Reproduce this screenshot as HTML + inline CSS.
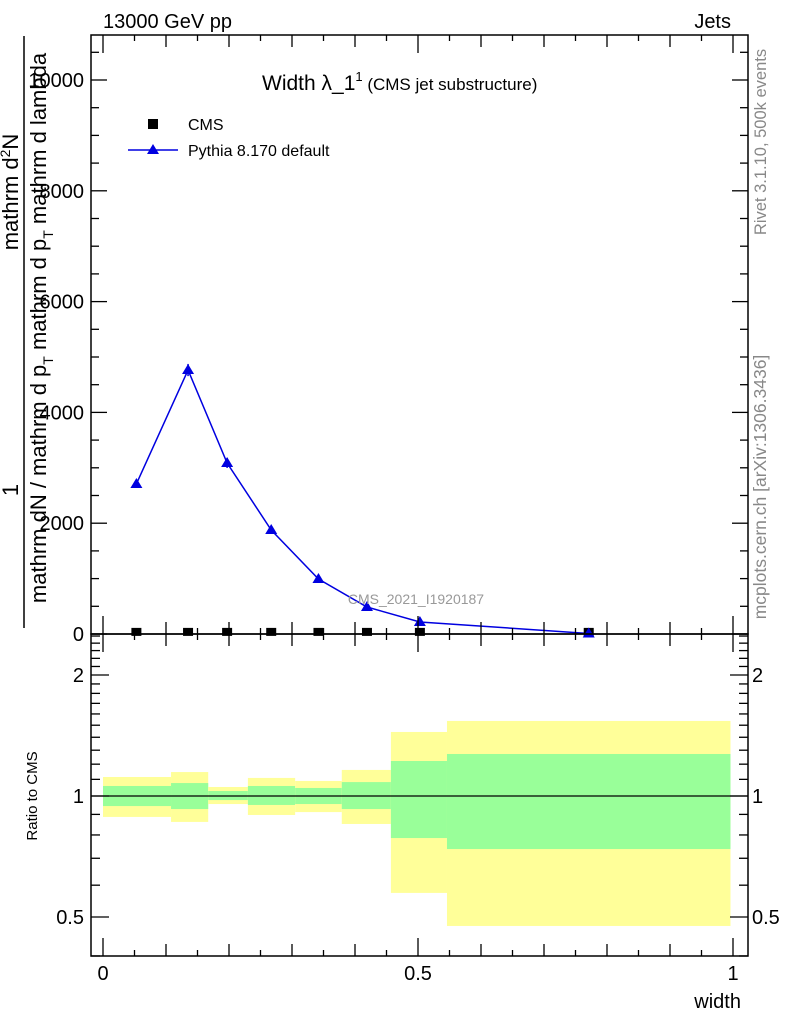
<!DOCTYPE html>
<html><head><meta charset="utf-8"><style>
html,body{margin:0;padding:0;background:#fff}
svg{display:block;font-family:"Liberation Sans",sans-serif}
</style></head><body>
<svg id="chart" width="786" height="1024" viewBox="0 0 786 1024" xmlns="http://www.w3.org/2000/svg">
<g id="ratio-bands"></g>
<g id="main-marks"></g>
<g id="axes"></g>
<text x="103" y="28" font-size="20">13000 GeV pp</text>
<text x="731" y="28" font-size="20" text-anchor="end">Jets</text>
<text x="262" y="90" font-size="21">Width λ_1<tspan font-size="13" dy="-9">1</tspan><tspan font-size="17" dy="9"> (CMS jet substructure)</tspan></text>
<g>
<rect x="148" y="119" width="10" height="10" fill="#000"/>
<text x="188" y="130" font-size="16">CMS</text>
<line x1="128" y1="150" x2="178" y2="150" stroke="#0000e0" stroke-width="1.5"/>
<polygon points="153,144 159,154 147,154" fill="#0000e0"/>
<text x="188" y="156" font-size="16">Pythia 8.170 default</text>
</g>
<text x="416" y="604" font-size="14" fill="#999" text-anchor="middle">CMS_2021_I1920187</text>
<text transform="translate(766,142) rotate(-90)" font-size="16.5" fill="#888" text-anchor="middle">Rivet 3.1.10,  500k events</text>
<text transform="translate(766,487) rotate(-90)" font-size="17.5" fill="#888" text-anchor="middle">mcplots.cern.ch [arXiv:1306.3436]</text>
<g>
<line x1="24" y1="36" x2="24" y2="628" stroke="#000" stroke-width="1.5"/>
<text transform="translate(24,192) rotate(-90)" font-size="22" text-anchor="middle" dy="-6">mathrm d<tspan font-size="14" dy="-8">2</tspan><tspan dy="8">N</tspan></text>
<text transform="translate(24,490) rotate(-90)" font-size="22" text-anchor="middle" dy="-6">1</text>
<text transform="translate(24,328) rotate(-90)" font-size="22" text-anchor="middle" dy="22">mathrm dN / mathrm d p<tspan font-size="14" dy="7">T</tspan><tspan dy="-7"> mathrm d p</tspan><tspan font-size="14" dy="7">T</tspan><tspan dy="-7"> mathrm d lambda</tspan></text>
</g>
<text transform="translate(37,796) rotate(-90)" font-size="15" text-anchor="middle">Ratio to CMS</text>
<text x="741" y="1008" font-size="20" text-anchor="end">width</text>
</svg>
<script>
const binEdges=[0,0.108,0.167,0.230,0.305,0.379,0.457,0.546,0.996];
const xCenters=[0.053,0.135,0.197,0.267,0.342,0.419,0.503,0.771];
const pythiaVals=[2708,4765,3087,1877,993,487,217,10];
const pythiaErr=[40,110,90,40,30,20,10,5];
const cmsVals=[20,20,20,20,20,20,20,20];
const yellowHi=[1.115,1.147,1.053,1.109,1.090,1.161,1.443,1.537];
const yellowLo=[0.887,0.862,0.955,0.897,0.912,0.852,0.574,0.475];
const greenHi=[1.059,1.077,1.029,1.059,1.047,1.083,1.222,1.272];
const greenLo=[0.944,0.928,0.977,0.950,0.955,0.928,0.786,0.738];
const yTicks=[0,2000,4000,6000,8000,10000];
const yTickLabels=["0","2000","4000","6000","8000","10000"];
const rTicks=[0.5,1,2];
const rTickLabels=["0.5","1","2"];
const xTicks=[0,0.5,1];
const xTickLabels=["0","0.5","1"];

const NS="http://www.w3.org/2000/svg";
const L=91,R=748,T=35,MB=634,RB=956;
const X=v=>103+v*630;
const Y=v=>634-v*0.0554;
const RY=v=>796-Math.log10(v)*402;
function mk(tag,attrs,parent){const e=document.createElementNS(NS,tag);for(const k in attrs)e.setAttribute(k,attrs[k]);parent.appendChild(e);return e;}

const bands=document.getElementById('ratio-bands');
for(let i=0;i<yellowHi.length;i++){
  const x0=X(binEdges[i]),x1=X(binEdges[i+1]);
  const y=mk('rect',{x:x0,y:RY(yellowHi[i]),width:x1-x0,height:RY(yellowLo[i])-RY(yellowHi[i]),fill:'#ffff99'},bands);
  
  
  const g=mk('rect',{x:x0,y:RY(greenHi[i]),width:x1-x0,height:RY(greenLo[i])-RY(greenHi[i]),fill:'#99ff99'},bands);
  
  
}
const one=mk('line',{x1:L,x2:R,y1:RY(1),y2:RY(1),stroke:'#000','stroke-width':1.2},bands);



const mm=document.getElementById('main-marks');
const pts=xCenters.map((x,i)=>X(x)+','+Y(pythiaVals[i])).join(' ');
const pl=mk('polyline',{points:pts,fill:'none',stroke:'#0000e0','stroke-width':1.5},mm);


xCenters.forEach((x,i)=>{
  const cx=X(x),cy=Y(cmsVals[i]);
  const s=mk('rect',{x:cx-5,y:cy-5,width:10,height:8,fill:'#000'},mm);
  
  
  const py=Y(pythiaVals[i]);
  const eb=mk('line',{x1:cx,x2:cx,y1:Y(pythiaVals[i]+pythiaErr[i]),y2:Y(pythiaVals[i]-pythiaErr[i]),stroke:'#0000e0','stroke-width':1.5},mm);
  
  
  const t=mk('polygon',{points:`${cx},${py-6} ${cx+6},${py+4} ${cx-6},${py+4}`,fill:'#0000e0'},mm);
  
  
});

const ax=document.getElementById('axes');
function ln(x1,y1,x2,y2,w){mk('line',{x1,y1,x2,y2,stroke:'#000','stroke-width':w||1.3},ax);}
const f1=mk('rect',{x:L,y:T,width:R-L,height:MB-T,fill:'none',stroke:'#000','stroke-width':1.5},ax);


const f2=mk('rect',{x:L,y:MB,width:R-L,height:RB-MB,fill:'none',stroke:'#000','stroke-width':1.5},ax);


for(let v=0;v<=10800;v+=500){const y=Y(v);const big=v%2000===0;const len=big?16:8;ln(L,y,L+len,y);ln(R,y,R-len,y);}
yTicks.forEach((v,i)=>{const t=mk('text',{x:L-7,y:Y(v)+7,'font-size':20,'text-anchor':'end'},ax);t.textContent=yTickLabels[i];});
for(let k=0;k<=20;k++){const v=k*0.05;const x=X(v);const len=(k%10===0)?18:(k%2===0?12:6);
  ln(x,MB,x,MB-len);ln(x,T,x,T+len);ln(x,RB,x,RB-len);ln(x,MB,x,MB+len);}
xTickLabels.forEach((s,i)=>{const t=mk('text',{x:X(xTicks[i]),y:980,'font-size':20,'text-anchor':'middle'},ax);t.textContent=s;});
const minor=[0.4,0.6,0.7,0.8,0.9,1.1,1.2,1.3,1.4,1.5,1.6,1.7,1.8,1.9,2.1,2.2,2.3,2.4,2.5];
minor.forEach(v=>{const y=RY(v);if(y<MB||y>RB)return;ln(L,y,L+9,y);ln(R,y,R-9,y);});
rTicks.forEach((v,i)=>{const y=RY(v);ln(L,y,L+18,y);ln(R,y,R-18,y);
  const t=mk('text',{x:L-7,y:y+7,'font-size':20,'text-anchor':'end'},ax);t.textContent=rTickLabels[i];
  const t2=mk('text',{x:R+4,y:y+7,'font-size':20},ax);t2.textContent=rTickLabels[i];});
</script>
</body></html>
